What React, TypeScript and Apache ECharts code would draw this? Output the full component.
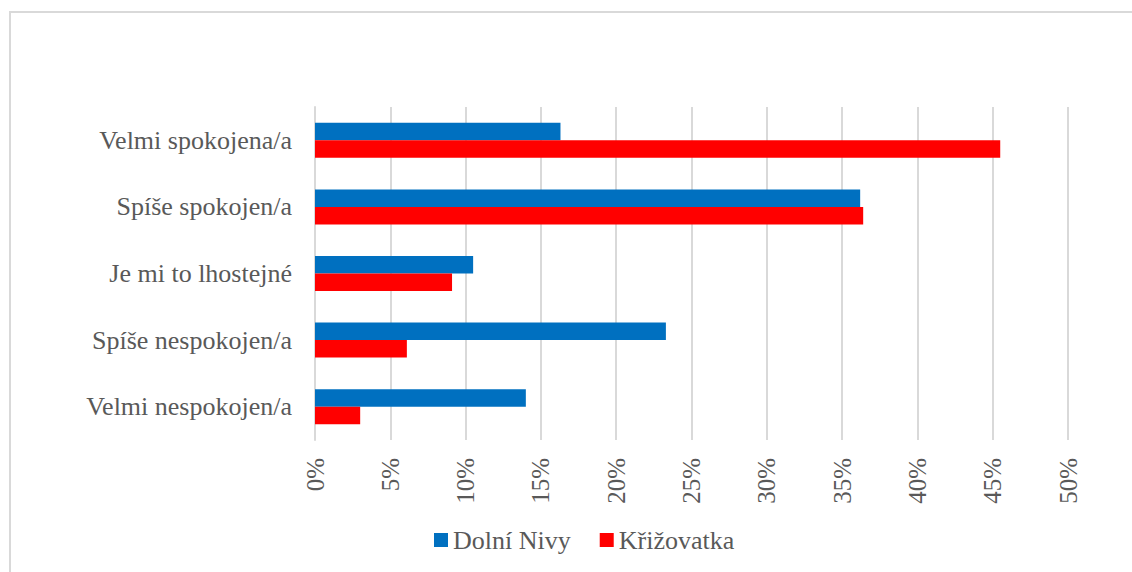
import React, { useEffect, useRef } from "react";
import * as echarts from "echarts";

const categories = [
  "Velmi spokojena/a",
  "Spíše spokojen/a",
  "Je mi to lhostejné",
  "Spíše nespokojen/a",
  "Velmi nespokojen/a",
];
const dolniNivy = [16.3, 36.2, 10.5, 23.3, 14.0];
const krizovatka = [45.5, 36.4, 9.1, 6.1, 3.0];
const seriesNames = ["Dolní Nivy", "Křižovatka"];
const axisMin = 0;
const axisMax = 50;
const axisStep = 5;

const FONT = "'Liberation Serif', 'Times New Roman', serif";
const TEXT = "#595959";
const GRID = "#d9d9d9";

export default function App() {
  const ref = useRef<HTMLDivElement>(null);
  useEffect(() => {
    if (!ref.current) return;
    const chart = echarts.init(ref.current, undefined, { renderer: "svg" });
    chart.setOption({
      animation: false,
      backgroundColor: "#ffffff",
      textStyle: { fontFamily: FONT },
      graphic: [
        {
          type: "rect",
          shape: { x: 10, y: 12, width: 1200, height: 700 },
          style: { fill: "none", stroke: GRID, lineWidth: 2 },
          silent: true,
        },
      ],
      grid: { left: 315, right: 64, top: 107, bottom: 132 },
      legend: {
        data: seriesNames,
        bottom: 14,
        left: 429,
        itemWidth: 14,
        itemHeight: 14,
        itemGap: 29,
        icon: "rect",
        textStyle: { fontFamily: FONT, fontSize: 26, color: TEXT },
      },
      xAxis: {
        type: "value",
        min: axisMin,
        max: axisMax,
        interval: axisStep,
        axisLine: { show: false },
        axisTick: { show: false },
        splitLine: { show: true, lineStyle: { color: GRID, width: 2 } },
        axisLabel: {
          rotate: 90,
          margin: 18,
          formatter: "{value}%",
          fontFamily: FONT,
          fontSize: 25,
          color: TEXT,
        },
      },
      yAxis: {
        type: "category",
        data: categories,
        inverse: true,
        axisLine: { show: true, lineStyle: { color: GRID, width: 2 } },
        axisTick: { show: false },
        axisLabel: {
          margin: 23,
          fontFamily: FONT,
          fontSize: 26,
          color: TEXT,
        },
      },
      series: [
        {
          name: seriesNames[0],
          type: "bar",
          data: dolniNivy,
          barWidth: 17.5,
          barGap: "0%",
          itemStyle: { color: "#0070C0" },
        },
        {
          name: seriesNames[1],
          type: "bar",
          data: krizovatka,
          barWidth: 17.5,
          barGap: "0%",
          itemStyle: { color: "#FF0000" },
        },
      ],
    });
    return () => chart.dispose();
  }, []);
  return (
    <div
      ref={ref}
      style={{ position: "fixed", left: 0, top: 0, width: 1132, height: 572 }}
    />
  );
}
